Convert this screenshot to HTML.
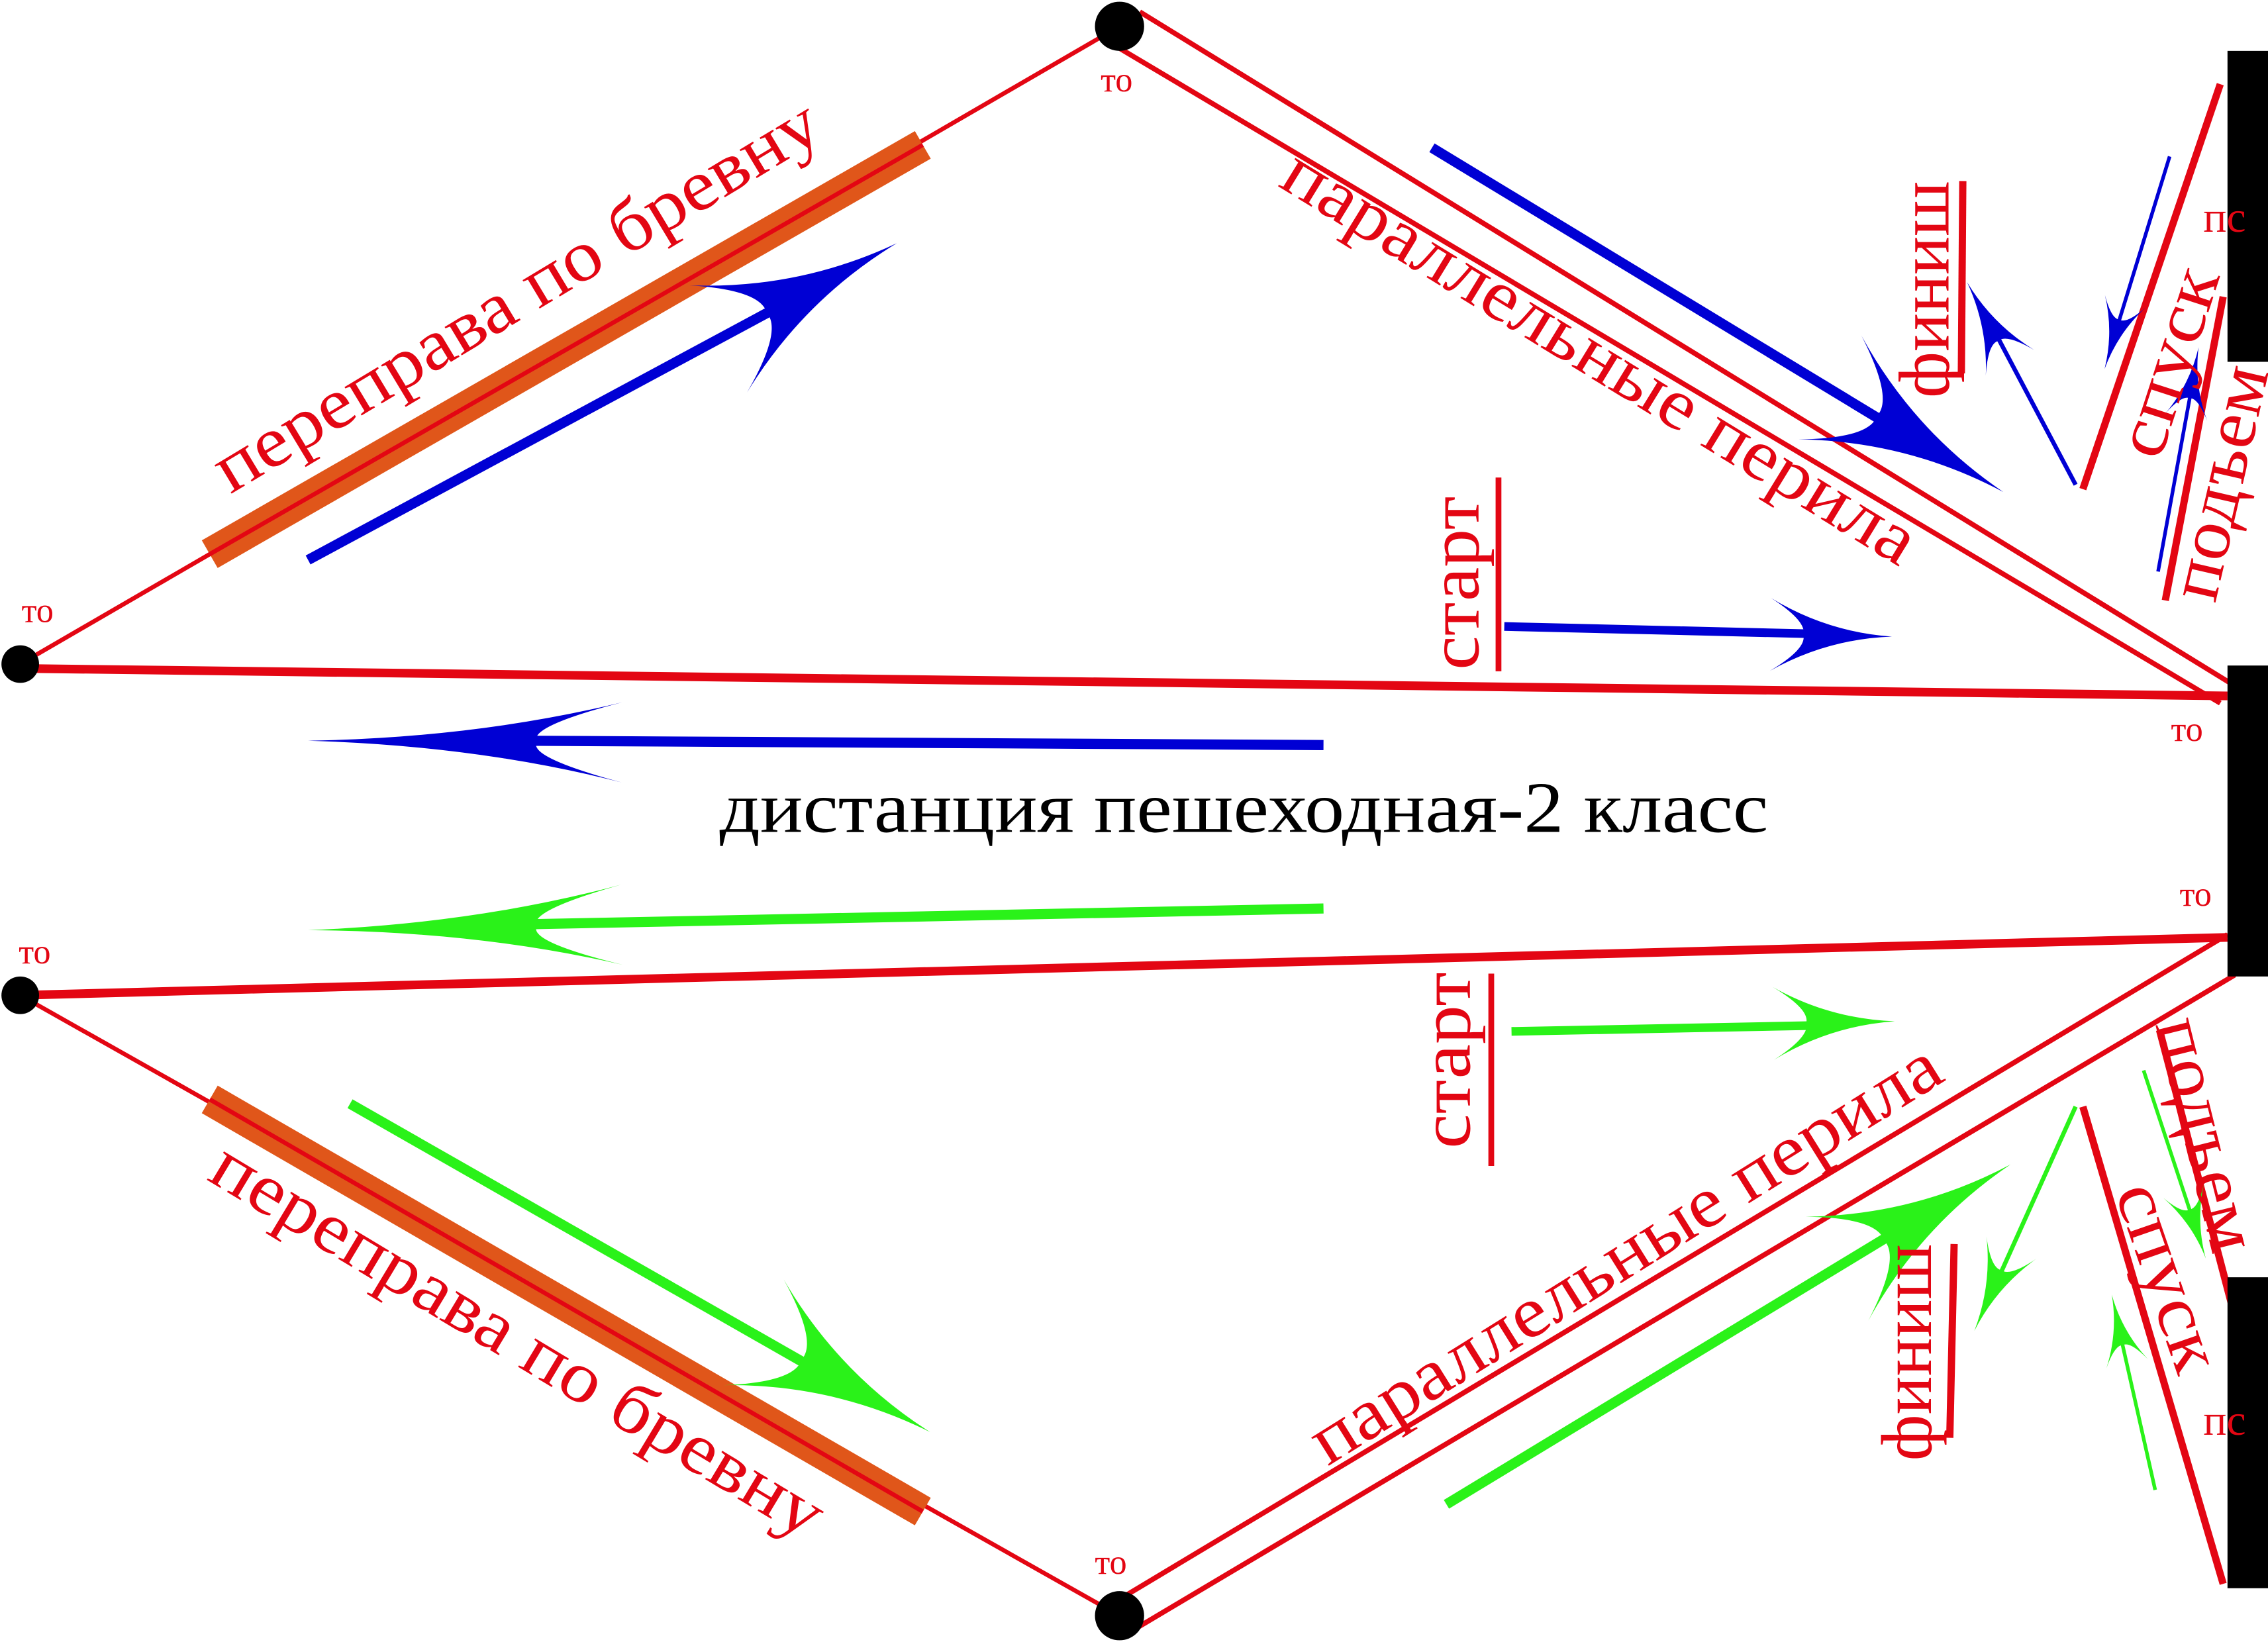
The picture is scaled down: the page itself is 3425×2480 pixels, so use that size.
<!DOCTYPE html>
<html><head><meta charset="utf-8"><style>html,body{margin:0;padding:0;background:#fff}svg{display:block}</style></head>
<body>
<svg width="3425" height="2480" viewBox="0 0 1568 1135" xmlns="http://www.w3.org/2000/svg">
<defs>
<path id="ah" d="M0,0 Q-75,-4 -140,-42 Q-98,-16 -102,0 Q-98,16 -140,42 Q-75,4 0,0Z"/>
</defs>
<g stroke="#e30613" fill="none" stroke-linecap="butt">
 <line x1="14" y1="459" x2="774" y2="18" stroke-width="3"/>
 <line x1="145" y1="383" x2="638" y2="100" stroke="#e0561a" stroke-width="22"/>
 <line x1="145" y1="383" x2="638" y2="100" stroke-width="3"/>
 <line x1="788" y1="8" x2="1545" y2="474" stroke-width="3.5"/>
 <line x1="772" y1="32" x2="1535" y2="486" stroke-width="3.5"/>
 <line x1="14" y1="462" x2="1540" y2="481" stroke-width="6"/>
 <line x1="14" y1="688" x2="1540" y2="648" stroke-width="6"/>
 <line x1="14" y1="688" x2="774" y2="1117" stroke-width="3"/>
 <line x1="145" y1="760" x2="638" y2="1045" stroke="#e0561a" stroke-width="22"/>
 <line x1="145" y1="760" x2="638" y2="1045" stroke-width="3"/>
 <line x1="770" y1="1108" x2="1540" y2="646" stroke-width="3.5"/>
 <line x1="785" y1="1126" x2="1545" y2="674" stroke-width="3.5"/>
 <line x1="1036" y1="330" x2="1036" y2="464" stroke-width="4"/>
 <line x1="1031" y1="673" x2="1031" y2="806" stroke-width="4"/>
 <line x1="1357" y1="125" x2="1356" y2="258" stroke-width="5"/>
 <line x1="1351" y1="860" x2="1348" y2="994" stroke-width="5"/>
 <line x1="1535" y1="58" x2="1440" y2="338" stroke-width="5"/>
 <line x1="1537" y1="205" x2="1497" y2="415" stroke-width="5"/>
 <line x1="1440" y1="765" x2="1537" y2="1095" stroke-width="5"/>
 <line x1="1493" y1="712" x2="1545" y2="910" stroke-width="5"/>
</g>
<g fill="#000">
 <circle cx="14" cy="459" r="13"/><circle cx="774" cy="18" r="17"/>
 <circle cx="14" cy="688" r="13"/><circle cx="774" cy="1117" r="17"/>
 <rect x="1540" y="35" width="28" height="215"/>
 <rect x="1540" y="460" width="28" height="215"/>
 <rect x="1540" y="883" width="28" height="215"/>
</g>
<g stroke="#0000d4" fill="none">
 <line x1="213" y1="387" x2="540" y2="211" stroke-width="7"/>
 <line x1="990" y1="102" x2="1305" y2="293" stroke-width="7"/>
 <line x1="1040" y1="433" x2="1250" y2="438" stroke-width="6"/>
 <line x1="915" y1="515" x2="360" y2="512" stroke-width="7"/>
 <line x1="1435" y1="335" x2="1370" y2="212" stroke-width="3"/>
 <line x1="1500" y1="108" x2="1460" y2="238" stroke-width="2.5"/>
 <line x1="1492" y1="395" x2="1517" y2="258" stroke-width="2.5"/>
</g>
<g fill="#0000d4">
 <use href="#ah" transform="translate(620,168) rotate(-28.2)"/>
 <use href="#ah" transform="translate(1385,340) rotate(31.1)"/>
 <use href="#ah" transform="translate(1308,440) rotate(1) scale(0.6)"/>
 <use href="#ah" transform="translate(213,512) rotate(180.3) scale(1.55,0.66)"/>
 <use href="#ah" transform="translate(1360,195) rotate(-118) scale(0.45)"/>
 <use href="#ah" transform="translate(1455,255) rotate(107) scale(0.35)"/>
 <use href="#ah" transform="translate(1520,240) rotate(-80) scale(0.35)"/>
</g>
<g stroke="#2af219" fill="none">
 <line x1="915" y1="628" x2="360" y2="639" stroke-width="7"/>
 <line x1="1045" y1="713" x2="1250" y2="709" stroke-width="6"/>
 <line x1="242" y1="763" x2="575" y2="953" stroke-width="7"/>
 <line x1="1000" y1="1040" x2="1305" y2="855" stroke-width="7"/>
 <line x1="1435" y1="765" x2="1372" y2="905" stroke-width="3"/>
 <line x1="1482" y1="740" x2="1520" y2="855" stroke-width="2.5"/>
 <line x1="1490" y1="1030" x2="1463" y2="910" stroke-width="2.5"/>
</g>
<g fill="#2af219">
 <use href="#ah" transform="translate(213,643) rotate(179) scale(1.55,0.66)"/>
 <use href="#ah" transform="translate(1310,706) rotate(-1) scale(0.6)"/>
 <use href="#ah" transform="translate(643,990) rotate(29.5)"/>
 <use href="#ah" transform="translate(1390,805) rotate(-31)"/>
 <use href="#ah" transform="translate(1365,920) rotate(114) scale(0.45)"/>
 <use href="#ah" transform="translate(1525,870) rotate(71.7) scale(0.35)"/>
 <use href="#ah" transform="translate(1460,895) rotate(-102.5) scale(0.35)"/>
</g>
<g font-family="'Liberation Serif', 'DejaVu Serif', serif" fill="#e30613" text-anchor="middle">
 <text x="0" y="0" font-size="50" textLength="480" lengthAdjust="spacingAndGlyphs" transform="translate(365,218) rotate(-31)">переправа по бревну</text>
 <text x="0" y="0" font-size="50" textLength="505" lengthAdjust="spacingAndGlyphs" transform="translate(1098,260) rotate(31.5)">параллельные перила</text>
 <text x="0" y="0" font-size="50" textLength="505" lengthAdjust="spacingAndGlyphs" transform="translate(1132,880) rotate(-32)">параллельные перила</text>
 <text x="0" y="0" font-size="50" textLength="485" lengthAdjust="spacingAndGlyphs" transform="translate(350,940) rotate(31)">переправа по бревну</text>
 <text x="0" y="0" font-size="50" textLength="120" lengthAdjust="spacingAndGlyphs" transform="translate(1022,403) rotate(-90)">старт</text>
 <text x="0" y="0" font-size="50" textLength="122" lengthAdjust="spacingAndGlyphs" transform="translate(1016,733) rotate(-90)">старт</text>
 <text x="0" y="0" font-size="50" textLength="150" lengthAdjust="spacingAndGlyphs" transform="translate(1347,200) rotate(-90)">финиш</text>
 <text x="0" y="0" font-size="50" textLength="150" lengthAdjust="spacingAndGlyphs" transform="translate(1335,935) rotate(-90)">финиш</text>
 <text x="0" y="0" font-size="50" textLength="135" lengthAdjust="spacingAndGlyphs" transform="translate(1514,255) rotate(-72)">спуск</text>
 <text x="0" y="0" font-size="50" textLength="165" lengthAdjust="spacingAndGlyphs" transform="translate(1550,337) rotate(-77)">подъем</text>
 <text x="0" y="0" font-size="50" textLength="165" lengthAdjust="spacingAndGlyphs" transform="translate(1510,788) rotate(76)">подъем</text>
 <text x="0" y="0" font-size="50" textLength="135" lengthAdjust="spacingAndGlyphs" transform="translate(1484,888) rotate(71)">спуск</text>
 <g font-size="24">
  <text x="26" y="430">то</text>
  <text x="772" y="63">то</text>
  <text x="1512" y="512">то</text>
  <text x="1518" y="626">то</text>
  <text x="24" y="666">то</text>
  <text x="768" y="1088">то</text>
 </g>
 <g font-size="30">
  <text x="1538" y="160">пс</text>
  <text x="1538" y="992">пс</text>
 </g>
</g>
<text x="860" y="575" font-family="'Liberation Serif', 'DejaVu Serif', serif" font-size="50" textLength="725" lengthAdjust="spacingAndGlyphs" text-anchor="middle" fill="#000">дистанция пешеходная-2 класс</text>
</svg>
</body></html>
